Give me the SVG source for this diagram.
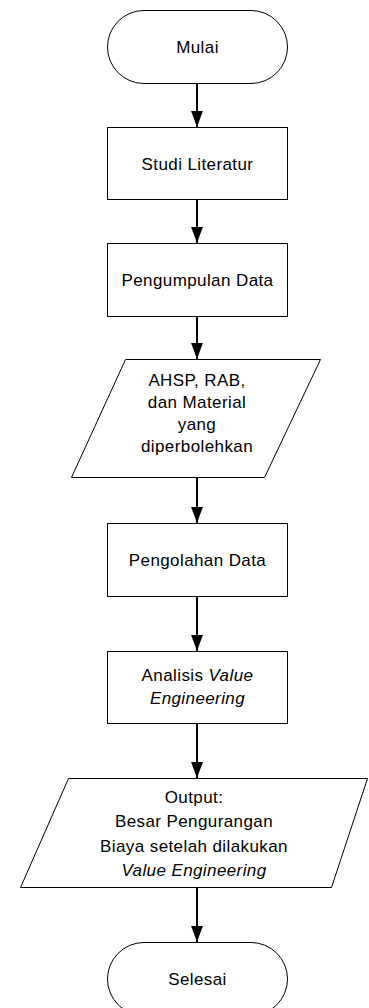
<svg xmlns="http://www.w3.org/2000/svg" width="369" height="1008" viewBox="0 0 369 1008">
<style>
.shape{fill:#fff;stroke:#000;stroke-width:1}
.t{font-family:"Liberation Sans",Arial,sans-serif;font-size:17px;fill:#000;text-anchor:middle;letter-spacing:0.4px}
.i{font-style:italic}
.c{stroke:#000;stroke-width:2;fill:none}
</style>
<defs>
<marker id="ah" markerUnits="userSpaceOnUse" markerWidth="17" markerHeight="24" refX="23" refY="8.5" orient="auto" viewBox="0 0 24 17">
<path d="M0,0 L23,8.5 L0,17 Z" fill="#000"/>
</marker>
</defs>
<rect width="369" height="1008" fill="#fff"/>
<g id="connectors">
<line class="c" x1="197" y1="83" x2="197" y2="127" marker-end="url(#ah)"/>
<line class="c" x1="197" y1="199" x2="197" y2="243" marker-end="url(#ah)"/>
<line class="c" x1="197" y1="316" x2="197" y2="359" marker-end="url(#ah)"/>
<line class="c" x1="197" y1="477" x2="197" y2="523" marker-end="url(#ah)"/>
<line class="c" x1="197" y1="596" x2="197" y2="651" marker-end="url(#ah)"/>
<line class="c" x1="197" y1="723" x2="197" y2="778" marker-end="url(#ah)"/>
<line class="c" x1="197" y1="887" x2="197" y2="942" marker-end="url(#ah)"/>
</g>
<g id="mulai">
<rect class="shape" x="107.5" y="10.5" width="180" height="73" rx="36.5" ry="36.5"/>
<text class="t" x="197.5" y="53">Mulai</text>
</g>
<g id="studi">
<rect class="shape" x="107.5" y="127.5" width="180" height="72"/>
<text class="t" x="197.5" y="170">Studi Literatur</text>
</g>
<g id="pengumpulan">
<rect class="shape" x="107.5" y="243.5" width="180" height="73"/>
<text class="t" x="197.5" y="286">Pengumpulan Data</text>
</g>
<g id="ahsp">
<polygon class="shape" points="125.5,359.5 320.5,359.5 264.5,477.5 71.5,477.5"/>
<text class="t" x="197" y="386">AHSP, RAB,</text>
<text class="t" x="197" y="408">dan Material</text>
<text class="t" x="197" y="430">yang</text>
<text class="t" x="197" y="452">diperbolehkan</text>
</g>
<g id="pengolahan">
<rect class="shape" x="107.5" y="523.5" width="180" height="73"/>
<text class="t" x="197.5" y="566">Pengolahan Data</text>
</g>
<g id="analisis">
<rect class="shape" x="107.5" y="651.5" width="180" height="72"/>
<text class="t" x="197.5" y="681">Analisis <tspan class="i">Value</tspan></text>
<text class="t i" x="197.5" y="704">Engineering</text>
</g>
<g id="output">
<polygon class="shape" points="68.5,778.5 367.5,778.5 331.5,887.5 20.5,887.5"/>
<text class="t" x="194" y="803">Output:</text>
<text class="t" x="194" y="827">Besar Pengurangan</text>
<text class="t" x="194" y="852">Biaya setelah dilakukan</text>
<text class="t i" x="194" y="876">Value Engineering</text>
</g>
<g id="selesai">
<rect class="shape" x="107.5" y="942.5" width="180" height="73" rx="36.5" ry="36.5"/>
<text class="t" x="197.5" y="985">Selesai</text>
</g>
</svg>
